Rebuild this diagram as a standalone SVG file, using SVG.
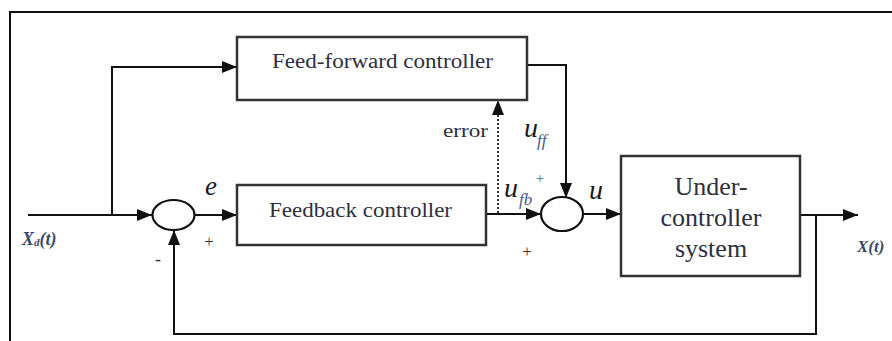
<svg xmlns="http://www.w3.org/2000/svg" width="892" height="341" viewBox="0 0 892 341">
<style>
.box{fill:#fff;stroke:#333;stroke-width:2.5}
.sum{fill:#fff;stroke:#111;stroke-width:2.2}
.ln{fill:none;stroke:#111;stroke-width:2}
.dot{fill:none;stroke:#333;stroke-width:2;stroke-dasharray:2 2}
text{font-family:'Liberation Serif','Times New Roman',serif}
.t{fill:#2e2e40}
.i{font-style:italic;fill:#1a1a1a}
.sub{font-style:italic;fill:#4a5a8a}
.sig{fill:#333}
.io{font-style:italic;fill:#3a4a6a}
</style>
<defs>
<marker id="ah" viewBox="0 0 15 12" refX="15" refY="6" markerWidth="15" markerHeight="12" markerUnits="userSpaceOnUse" orient="auto">
<path d="M0,0 L15,6 L0,12 Z" fill="#111"/>
</marker>
</defs>
<rect width="892" height="341" fill="#fff"/>
<path d="M10,341 V12 H892" fill="none" stroke="#111" stroke-width="2"/>
<g id="connectors">
<path class="ln" d="M28,215 H152" marker-end="url(#ah)"/>
<path class="ln" d="M112,215 V67 H237" marker-end="url(#ah)"/>
<path class="ln" d="M195,215 H237" marker-end="url(#ah)"/>
<path class="ln" d="M486,214 H541" marker-end="url(#ah)"/>
<path class="ln" d="M527,65 H566 V198" marker-end="url(#ah)"/>
<path class="dot" d="M498,213 V100" marker-end="url(#ah)"/>
<path class="ln" d="M583,214 H621" marker-end="url(#ah)"/>
<path class="ln" d="M800,215 H858" marker-end="url(#ah)"/>
<path class="ln" d="M816,215 V334 H174 V230" marker-end="url(#ah)"/>
</g>
<g id="ff">
<rect class="box" x="237" y="37" width="290" height="63"/>
<text class="t" x="272" y="68" font-size="20" textLength="221" lengthAdjust="spacingAndGlyphs">Feed-forward controller</text>
</g>
<g id="fb">
<rect class="box" x="237" y="185" width="249" height="60"/>
<text class="t" x="269" y="217" font-size="21" textLength="183" lengthAdjust="spacingAndGlyphs">Feedback controller</text>
</g>
<g id="sum1">
<ellipse class="sum" cx="173.5" cy="215" rx="21" ry="15"/>
</g>
<g id="sum2">
<ellipse class="sum" cx="562" cy="214" rx="21" ry="17"/>
</g>
<g id="plant">
<rect class="box" x="621" y="156" width="179" height="120"/>
<text class="t" x="711" y="195" font-size="26" text-anchor="middle">Under-</text>
<text class="t" x="711" y="226" font-size="26" text-anchor="middle">controller</text>
<text class="t" x="711" y="257" font-size="26" text-anchor="middle">system</text>
</g>
<g id="labels">
<text class="io" x="22" y="245" font-size="18" font-weight="bold">X<tspan font-size="11" dy="1">d</tspan><tspan dy="-1">(t)</tspan></text>
<text class="i" x="205" y="195" font-size="27">e</text>
<text class="sig" x="209" y="247" font-size="17" text-anchor="middle">+</text>
<text class="sig" x="158" y="265" font-size="18" text-anchor="middle">-</text>
<text class="t" x="443" y="137" font-size="19" textLength="45" lengthAdjust="spacingAndGlyphs">error</text>
<text class="i" x="524" y="137" font-size="28">u</text>
<text class="sub" x="537" y="146" font-size="17">ff</text>
<text class="sig" x="540" y="183" font-size="15" text-anchor="middle" style="fill:#4a6a8a">+</text>
<text class="i" x="504" y="197" font-size="28">u</text>
<text class="sub" x="519" y="205" font-size="17">fb</text>
<text class="sig" x="527" y="257" font-size="17" text-anchor="middle">+</text>
<text class="i" x="589" y="199" font-size="28">u</text>
<text class="io" x="857" y="252" font-size="17" font-weight="bold">X(t)</text>
</g>
</svg>
